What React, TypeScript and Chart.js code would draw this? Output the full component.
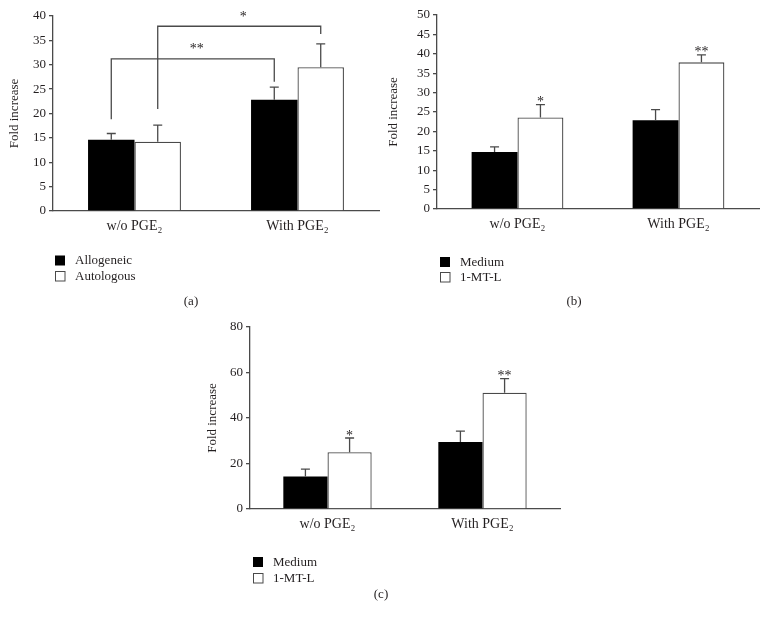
import { useEffect, useRef } from 'react';
import { Chart, registerables } from 'chart.js';

Chart.register(...registerables);

// ---------- data ----------
const categories = ['w/o PGE₂', 'With PGE₂'];

// Panel (a)
const aSeriesNames = ['Allogeneic', 'Autologous'];
const aAllogeneic = [14.6, 22.8];
const aAllogeneicErr = [15.9, 25.4];
const aAutologous = [14.2, 29.5];
const aAutologousErr = [17.6, 34.3];
const aYMax = 40;
const aYStep = 5;
// significance brackets in (a): series index, left end, right end, top, label
const aBracketLabels = ['**', '*'];
const aBracketSeries = [0, 1];
const aBracketLeftEnd = [18.8, 20.9];
const aBracketRightEnd = [26.5, 36.3];
const aBracketTop = [31.2, 37.9];

// Panel (b)
const bSeriesNames = ['Medium', '1-MT-L'];
const bMedium = [14.7, 22.9];
const bMediumErr = [16.0, 25.6];
const b1MTL = [23.6, 37.8];
const b1MTLErr = [26.9, 39.7];
const b1MTLStars = ['*', '**'];
const bYMax = 50;
const bYStep = 5;

// Panel (c)
const cSeriesNames = ['Medium', '1-MT-L'];
const cMedium = [14.3, 29.4];
const cMediumErr = [17.5, 34.2];
const c1MTL = [25.0, 51.1];
const c1MTLErr = [31.2, 57.3];
const c1MTLStars = ['*', '**'];
const cYMax = 80;
const cYStep = 20;

// ---------- style ----------
const SERIF = '"Liberation Serif", "DejaVu Serif", serif';
const INK = '#231f20';
const LINE = '#4a4a4a';
const TICK_FONT = { family: SERIF, size: 13 };
const XTICK_FONT = { family: SERIF, size: 14 };
const TITLE_FONT = { family: SERIF, size: 13 };

const annotPlugin = {
  id: 'annot',
  afterDatasetsDraw(chart: any, _args: any, opts: any) {
    const ctx = chart.ctx;
    const ys = chart.scales.y;
    ctx.save();
    ctx.strokeStyle = LINE;
    ctx.lineWidth = 1.3;
    // error bars (upper only)
    (opts.errors || []).forEach((errs: number[], di: number) => {
      const meta = chart.getDatasetMeta(di);
      meta.data.forEach((bar: any, j: number) => {
        const x = bar.x;
        const yt = bar.y;
        const ye = ys.getPixelForValue(errs[j]);
        ctx.beginPath();
        ctx.moveTo(x, yt);
        ctx.lineTo(x, ye);
        ctx.moveTo(x - 4.5, ye);
        ctx.lineTo(x + 4.5, ye);
        ctx.stroke();
      });
    });
    ctx.fillStyle = INK;
    ctx.font = `14px ${SERIF}`;
    ctx.textAlign = 'center';
    ctx.textBaseline = 'alphabetic';
    // stars above error bars
    (opts.stars || []).forEach((s: any) => {
      const meta = chart.getDatasetMeta(s.series);
      meta.data.forEach((bar: any, j: number) => {
        const t = s.labels[j];
        if (!t) return;
        const ye = ys.getPixelForValue(s.errs[j]);
        ctx.fillText(t, bar.x, ye + 1.5);
      });
    });
    // brackets
    (opts.brackets || []).forEach((b: any) => {
      const meta = chart.getDatasetMeta(b.series);
      const xl = meta.data[0].x;
      const xr = meta.data[1].x;
      const yTop = ys.getPixelForValue(b.top);
      ctx.beginPath();
      ctx.moveTo(xl, ys.getPixelForValue(b.left));
      ctx.lineTo(xl, yTop);
      ctx.lineTo(xr, yTop);
      ctx.lineTo(xr, ys.getPixelForValue(b.right));
      ctx.stroke();
      ctx.fillText(b.label, (xl + xr) / 2 + 4, yTop - 5.5);
    });
    // legend
    const lg = opts.legend;
    if (lg) {
      ctx.font = `13px ${SERIF}`;
      ctx.textAlign = 'left';
      ctx.textBaseline = 'middle';
      chart.data.datasets.forEach((ds: any, i: number) => {
        const top = lg.y + i * lg.dy;
        ctx.fillStyle = ds.backgroundColor;
        ctx.fillRect(lg.x, top, 10, 10);
        if (ds.backgroundColor !== '#000000') {
          ctx.lineWidth = 1;
          ctx.strokeStyle = LINE;
          ctx.strokeRect(lg.x + 0.5, top + 0.5, 9.5, 9.5);
        }
        ctx.fillStyle = INK;
        ctx.fillText(ds.label, lg.x + 20, top + 5.5);
      });
    }
    // panel label
    if (opts.panel) {
      ctx.font = `13px ${SERIF}`;
      ctx.textAlign = 'center';
      ctx.textBaseline = 'middle';
      ctx.fillStyle = INK;
      ctx.fillText(opts.panel.text, opts.panel.x, opts.panel.y);
    }
    ctx.restore();
  },
};

type PanelProps = {
  left: number;
  top: number;
  width: number;
  height: number;
  names: string[];
  series: number[][];
  errors: number[][];
  yMax: number;
  yStep: number;
  padding: { left: number; top: number; right: number; bottom: number };
  yW: number;
  xH: number;
  titlePad: number;
  stars?: any[];
  brackets?: any[];
  legend: { x: number; y: number; dy: number };
  panel: { text: string; x: number; y: number };
};

function Panel(p: PanelProps) {
  const ref = useRef<HTMLCanvasElement | null>(null);
  useEffect(() => {
    if (!ref.current) return;
    const chart = new Chart(ref.current, {
      type: 'bar',
      data: {
        labels: categories,
        datasets: p.series.map((s, i) => ({
          label: p.names[i],
          data: s,
          backgroundColor: i === 0 ? '#000000' : '#ffffff',
          borderColor: i === 0 ? '#000000' : LINE,
          borderWidth: i === 0 ? 0 : 1.3,
          categoryPercentage: 0.57,
          barPercentage: 1,
        })),
      },
      options: {
        animation: false,
        responsive: false,
        maintainAspectRatio: false,
        layout: { padding: p.padding },
        plugins: {
          legend: { display: false },
          tooltip: { enabled: false },
          annot: {
            errors: p.errors,
            stars: p.stars,
            brackets: p.brackets,
            legend: p.legend,
            panel: p.panel,
          },
        } as any,
        scales: {
          x: {
            grid: { display: false, drawTicks: false },
            border: { display: true, color: LINE, width: 1.3 },
            ticks: { font: XTICK_FONT, color: INK, padding: 7, maxRotation: 0 },
            afterFit: (s: any) => {
              s.height = p.xH;
            },
          },
          y: {
            min: 0,
            max: p.yMax,
            ticks: { stepSize: p.yStep, font: TICK_FONT, color: INK, padding: 3 },
            grid: { drawOnChartArea: false, tickLength: 4, color: LINE, lineWidth: 1.3 },
            border: { display: true, color: LINE, width: 1.3 },
            title: {
              display: true,
              text: 'Fold increase',
              font: TITLE_FONT,
              color: INK,
              padding: { top: p.titlePad, bottom: 0 },
            },
            afterFit: (s: any) => {
              s.width = p.yW;
            },
          },
        },
      } as any,
      plugins: [annotPlugin as any],
    });
    return () => chart.destroy();
  }, []);
  return (
    <canvas
      ref={ref}
      width={p.width}
      height={p.height}
      style={{
        position: 'absolute',
        left: p.left,
        top: p.top,
        width: p.width,
        height: p.height,
        display: 'block',
      }}
    />
  );
}

export default function App() {
  return (
    <div
      style={{
        position: 'absolute',
        left: 0,
        top: 0,
        width: 767,
        height: 618,
        background: '#ffffff',
        overflow: 'hidden',
      }}
    >
      <Panel
        left={0}
        top={0}
        width={382}
        height={310}
        names={aSeriesNames}
        series={[aAllogeneic, aAutologous]}
        errors={[aAllogeneicErr, aAutologousErr]}
        yMax={aYMax}
        yStep={aYStep}
        padding={{ left: 0, top: 16, right: 3, bottom: 0 }}
        yW={53}
        xH={99}
        titlePad={7}
        brackets={aBracketLabels.map((label, i) => ({
          label,
          series: aBracketSeries[i],
          left: aBracketLeftEnd[i],
          right: aBracketRightEnd[i],
          top: aBracketTop[i],
        }))}
        legend={{ x: 55, y: 255.5, dy: 15.5 }}
        panel={{ text: '(a)', x: 191, y: 302 }}
      />
      <Panel
        left={382}
        top={0}
        width={385}
        height={310}
        names={bSeriesNames}
        series={[bMedium, b1MTL]}
        errors={[bMediumErr, b1MTLErr]}
        yMax={bYMax}
        yStep={bYStep}
        padding={{ left: 0, top: 15, right: 8, bottom: 0 }}
        yW={55}
        xH={101}
        titlePad={4}
        stars={[{ series: 1, labels: b1MTLStars, errs: b1MTLErr }]}
        legend={{ x: 58, y: 257, dy: 15 }}
        panel={{ text: '(b)', x: 192, y: 302 }}
      />
      <Panel
        left={180}
        top={310}
        width={400}
        height={308}
        names={cSeriesNames}
        series={[cMedium, c1MTL]}
        errors={[cMediumErr, c1MTLErr]}
        yMax={cYMax}
        yStep={cYStep}
        padding={{ left: 0, top: 17, right: 20, bottom: 0 }}
        yW={70}
        xH={109}
        titlePad={25}
        stars={[{ series: 1, labels: c1MTLStars, errs: c1MTLErr }]}
        legend={{ x: 73, y: 247, dy: 16 }}
        panel={{ text: '(c)', x: 201, y: 285 }}
      />
    </div>
  );
}
